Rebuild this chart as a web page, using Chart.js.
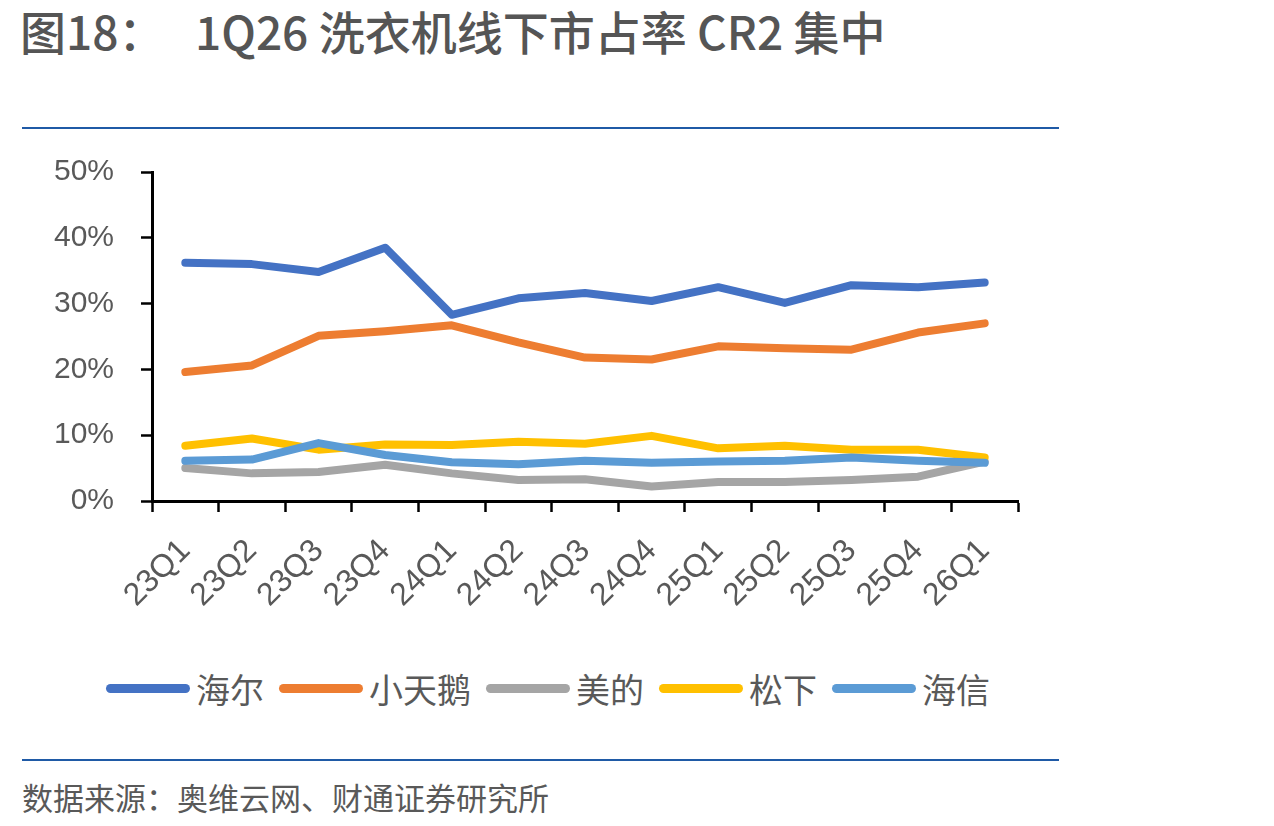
<!DOCTYPE html>
<html>
<head>
<meta charset="utf-8">
<script src="https://cdn.jsdelivr.net/npm/chart.js@4/dist/chart.umd.min.js"></script>
<style>
  html, body { margin: 0; padding: 0; background: #fff; }
  body { width: 1274px; height: 826px; position: relative; overflow: hidden; font-family: "Noto Sans CJK SC", sans-serif; color: #595959; }
  .title { position: absolute; top: 2px; font-size: 46px; font-weight: 500; font-family: "Liberation Sans Narrow", "Noto Sans CJK SC", sans-serif; color: #555; white-space: nowrap; line-height: 56px; }
  .rule { position: absolute; left: 22px; width: 1037px; height: 2px; background: #1f5aa6; }
  .source { position: absolute; left: 22px; top: 776px; font-size: 31px; line-height: 42px; white-space: nowrap; }
  #wrap { position: absolute; left: 0; top: 127px; width: 1060px; height: 533px; }
  .legend { position: absolute; left: 106px; top: 666px; height: 44px; display: flex; align-items: center; font-size: 34px; white-space: nowrap; }
  .legend .item { display: flex; align-items: center; margin-right: 15px; }
  .legend .swatch { width: 84px; height: 9px; border-radius: 5px; margin-right: 6px; }
</style>
</head>
<body>
<div class="title" style="left:20px">图18：</div>
<div class="title" style="left:195px">1Q26 洗衣机线下市占率 CR2 集中</div>
<div class="rule" style="top:127px"></div>
<div id="wrap"><canvas id="shareChart" width="1060" height="533"></canvas></div>
<div class="legend" id="legend"></div>
<div class="rule" style="top:759px"></div>
<div class="source">数据来源：奥维云网、财通证券研究所</div>

<script>
// 季度
const quarters = ['23Q1', '23Q2', '23Q3', '23Q4', '24Q1', '24Q2', '24Q3', '24Q4', '25Q1', '25Q2', '25Q3', '25Q4', '26Q1'];

// 线下市占率 (%)
const haier = [36.2, 36.0, 34.8, 38.5, 28.3, 30.8, 31.6, 30.4, 32.5, 30.1, 32.8, 32.5, 33.2];
const littleSwan = [19.6, 20.6, 25.1, 25.8, 26.7, 24.1, 21.8, 21.5, 23.5, 23.2, 23.0, 25.6, 27.0];
const midea = [5.0, 4.2, 4.4, 5.5, 4.2, 3.2, 3.3, 2.2, 2.9, 2.9, 3.2, 3.7, 6.0];
const panasonic = [8.4, 9.5, 7.8, 8.6, 8.5, 9.0, 8.7, 9.9, 8.0, 8.4, 7.8, 7.8, 6.6];
const hisense = [6.1, 6.3, 8.8, 7.0, 5.9, 5.6, 6.1, 5.8, 6.0, 6.1, 6.6, 6.1, 5.8];

const yTicks = [0, 10, 20, 30, 40, 50];

const seriesNames = ['海尔', '小天鹅', '美的', '松下', '海信'];
const seriesData = [haier, littleSwan, midea, panasonic, hisense];
const seriesColors = ['#4472c4', '#ed7d31', '#a5a5a5', '#ffc000', '#5b9bd5'];

const textColor = '#595959';

const datasets = seriesNames.map((name, i) => ({
  label: name,
  data: seriesData[i],
  borderColor: seriesColors[i],
  backgroundColor: seriesColors[i],
  borderWidth: 8,
  borderCapStyle: 'round',
  borderJoinStyle: 'round',
  pointRadius: 0,
  tension: 0,
  order: seriesNames.length - i  // 后面的系列画在上层
}));

// y轴标签的 padding 也会撑开顶部留白 (约 45px)，所以画布从 y=127 开始
new Chart(document.getElementById('shareChart'), {
  type: 'line',
  data: { labels: quarters, datasets },
  options: {
    responsive: false,
    animation: false,
    layout: { padding: { left: 0, top: 0, right: 42, bottom: 0 } },
    plugins: { legend: { display: false }, tooltip: { enabled: false } },
    scales: {
      x: {
        offset: true,
        grid: { display: true, offset: true, drawOnChartArea: false, drawTicks: true, tickLength: 11, tickWidth: 2.5, tickColor: '#000' },
        border: { display: true, color: '#000', width: 3 },
        ticks: { color: textColor, font: { family: 'Liberation Sans', size: 32 }, minRotation: 45, maxRotation: 45, padding: 20, autoSkip: false },
        afterFit: scale => { scale.height = 159; }
      },
      y: {
        min: 0,
        max: 50,
        afterBuildTicks: scale => { scale.ticks = yTicks.map(v => ({ value: v })); },
        grid: { display: true, drawOnChartArea: false, drawTicks: true, tickLength: 11, tickWidth: 2.5, tickColor: '#000' },
        border: { display: true, color: '#000', width: 3 },
        ticks: { color: textColor, font: { family: 'Liberation Sans', size: 30 }, padding: 27, callback: v => v + '%' },
        afterFit: scale => { scale.width = 152; }
      }
    }
  }
});

// 图例
const legendEl = document.getElementById('legend');
seriesNames.forEach((name, i) => {
  legendEl.innerHTML += '<div class="item"><div class="swatch" style="background:' + seriesColors[i] + '"></div><span>' + name + '</span></div>';
});
</script>
</body>
</html>
